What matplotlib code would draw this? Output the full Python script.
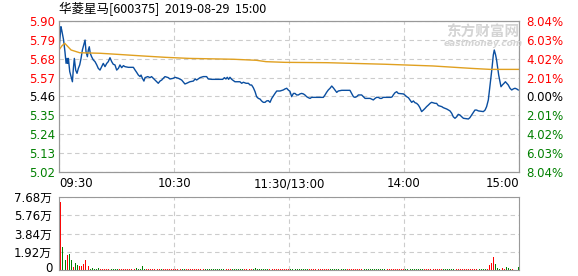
import numpy as np
import matplotlib
matplotlib.use("Agg")
import matplotlib.pyplot as plt

plt.rcParams['font.family'] = ['Noto Sans CJK SC', 'DejaVu Sans']

# 数据
title = "华菱星马[600375]  2019-08-29  15:00"
prev_close = 5.46
price_ticks = [5.90, 5.79, 5.68, 5.57, 5.46, 5.35, 5.24, 5.13, 5.02]
pct_labels = ["8.04%", "6.03%", "4.02%", "2.01%", "0.00%", "2.01%", "4.02%", "6.03%", "8.04%"]
time_ticks = [0, 60, 120, 180, 240]
time_labels = ["09:30", "10:30", "11:30/13:00", "14:00", "15:00"]
vol_ticks = [0, 19200, 38400, 57600, 76800]
vol_labels = ["0", "1.92万", "3.84万", "5.76万", "7.68万"]

price_t = [0, 1, 1.4, 1.9, 2.4, 3.1, 3.7, 4.2, 4.5, 4.9, 5.6, 6.3, 7.0, 7.5, 8.0, 8.7, 9.4,
           10.1, 10.8, 11.5, 12.2, 12.9, 13.6, 14.1, 14.8, 15.3, 15.8, 16.3, 17.0, 17.9,
           18.8, 19.7, 20.5, 21.4, 22.3, 23.1, 24.0, 24.9, 25.7, 26.6, 27.5, 28.3, 29.2,
           30.1, 31.0, 31.8, 32.7, 33.6, 34.4, 36.2, 38.8, 39.7, 40.5, 41.4, 42.3, 42.8,
           43.5, 44.3, 44.9, 46.3, 47.5, 48.3, 49.2, 50.1, 51.0, 51.8, 52.7, 53.6, 54.4,
           55.3, 57.0, 57.9, 59.6, 60.5, 62.3, 64.0, 65.7, 66.6, 68.3, 70.1, 71.0, 71.8,
           73.6, 75.3, 77.0, 77.9, 79.7, 85.4, 86.3, 87.1, 87.8, 88.5, 89.2, 90.1, 91.8,
           94.4, 95.3, 96.2, 97.6, 98.8, 99.7, 100.5, 101.4, 102.3, 103.1, 104.0, 104.9,
           105.7, 106.6, 107.5, 108.3, 109.2, 110.1, 111.0, 111.8, 112.7, 113.6, 115.3,
           117.0, 117.9, 118.8, 119.6, 120.5, 121.4, 122.3, 123.1, 124.0, 124.9, 125.7,
           126.6, 127.5, 128.3, 129.2, 130.1, 131.0, 131.8, 137.9, 138.8, 139.6, 140.5,
           141.4, 142.3, 143.1, 144.0, 144.9, 145.7, 147.5, 151.8, 152.7, 153.6, 154.4,
           155.3, 156.2, 157.9, 158.8, 159.7, 162.3, 163.1, 164.0, 164.9, 165.7, 166.6,
           167.5, 168.3, 169.2, 173.2, 173.9, 174.4, 175.3, 176.2, 177.0, 179.7, 180.5,
           181.4, 182.3, 183.1, 184.0, 184.9, 185.7, 186.6, 187.5, 188.3, 189.2, 190.1,
           191.0, 191.8, 192.7, 193.6, 194.4, 196.2, 197.0, 197.9, 199.7, 200.5, 202.3,
           204.0, 204.9, 205.7, 206.6, 207.5, 208.3, 209.2, 210.1, 211.0, 213.6, 214.4,
           215.3, 216.2, 217.0, 217.9, 218.8, 221.4, 222.3, 223.1, 224.0, 224.5, 225.2,
           225.9, 226.6, 227.1, 227.8, 228.3, 228.9, 229.4, 230.1, 230.6, 231.3, 232.2,
           232.9, 233.6, 234.4, 235.3, 236.2, 237.0, 237.9, 238.8, 239.6]
price = [5.731, 5.867, 5.848, 5.818, 5.789, 5.721, 5.653, 5.682, 5.653, 5.682, 5.605, 5.576,
         5.546, 5.624, 5.682, 5.614, 5.595, 5.624, 5.644, 5.682, 5.731, 5.760, 5.789, 5.721,
         5.692, 5.731, 5.750, 5.712, 5.692, 5.673, 5.663, 5.644, 5.624, 5.614, 5.634, 5.653,
         5.634, 5.653, 5.663, 5.686, 5.663, 5.648, 5.644, 5.614, 5.624, 5.644, 5.628, 5.640,
         5.634, 5.630, 5.630, 5.614, 5.601, 5.585, 5.576, 5.585, 5.566, 5.550, 5.570, 5.576,
         5.570, 5.576, 5.566, 5.556, 5.546, 5.537, 5.550, 5.556, 5.566, 5.576, 5.570, 5.562,
         5.566, 5.572, 5.566, 5.556, 5.533, 5.537, 5.546, 5.550, 5.562, 5.556, 5.570, 5.576,
         5.576, 5.562, 5.560, 5.560, 5.570, 5.562, 5.572, 5.560, 5.572, 5.560, 5.546, 5.546,
         5.537, 5.543, 5.537, 5.537, 5.527, 5.527, 5.511, 5.488, 5.459, 5.449, 5.445, 5.434,
         5.426, 5.426, 5.434, 5.436, 5.426, 5.449, 5.463, 5.478, 5.492, 5.492, 5.498, 5.504,
         5.508, 5.498, 5.490, 5.459, 5.478, 5.478, 5.469, 5.469, 5.475, 5.478, 5.475, 5.469,
         5.459, 5.453, 5.449, 5.455, 5.455, 5.469, 5.484, 5.498, 5.508, 5.521, 5.511, 5.498,
         5.484, 5.492, 5.496, 5.496, 5.478, 5.459, 5.455, 5.459, 5.469, 5.469, 5.459, 5.449,
         5.449, 5.445, 5.440, 5.449, 5.455, 5.455, 5.449, 5.449, 5.455, 5.455, 5.459, 5.469,
         5.482, 5.488, 5.478, 5.475, 5.468, 5.459, 5.453, 5.440, 5.426, 5.434, 5.424, 5.420,
         5.410, 5.395, 5.372, 5.381, 5.391, 5.401, 5.410, 5.420, 5.426, 5.420, 5.420, 5.407,
         5.401, 5.395, 5.387, 5.376, 5.362, 5.342, 5.333, 5.342, 5.356, 5.352, 5.342, 5.333,
         5.329, 5.337, 5.352, 5.368, 5.381, 5.381, 5.376, 5.372, 5.381, 5.401, 5.440, 5.488,
         5.556, 5.624, 5.702, 5.731, 5.702, 5.673, 5.624, 5.585, 5.546, 5.517, 5.527, 5.537,
         5.546, 5.537, 5.527, 5.508, 5.498, 5.504, 5.508, 5.504, 5.498]

avg_t = [0, 1.5, 3, 6.3, 10.8, 21.4, 30, 44, 56, 68, 91, 103, 108, 118, 140, 170, 195, 215, 225, 240]
avg_price = [5.731, 5.755, 5.770, 5.731, 5.715, 5.712, 5.706, 5.696, 5.688, 5.682, 5.677,
             5.671, 5.663, 5.659, 5.657, 5.648, 5.638, 5.624, 5.618, 5.618]

volume = [71200, 24300, 14600, 10400, 15600, 16700, 10400, 3500, 7000, 4900,
          4200, 4200, 6300, 10400, 4200, 4200, 1000, 2000, 1000, 1000,
          2200, 900, 1000, 800, 1000, 900, 1100, 1000, 900, 1000,
          800, 1000, 900, 1000, 1100, 900, 800, 1000, 900, 1000,
          2100, 1000, 900, 4300, 1000, 1100, 900, 1000, 800, 1000,
          1000, 900, 1100, 1000, 900, 1000, 800, 1000, 900, 1000,
          1000, 900, 1100, 1000, 800, 1000, 900, 1000, 1000, 900,
          1100, 1000, 900, 800, 1000, 1000, 900, 1000, 1100, 900,
          1000, 900, 1000, 800, 1000, 1100, 1000, 900, 1000, 1000,
          900, 800, 1000, 1000, 900, 1100, 1000, 900, 1000, 800,
          1000, 1300, 2200, 1000, 900, 1000, 1000, 900, 1100, 1000,
          800, 1000, 900, 1000, 1000, 900, 1100, 1000, 900, 1000,
          1000, 900, 1000, 800, 1000, 1100, 900, 1000, 1000, 900,
          1000, 800, 1000, 1000, 900, 1100, 1000, 900, 1000, 1000,
          900, 1000, 1100, 1000, 800, 1000, 900, 1000, 1000, 900,
          1100, 1000, 900, 1000, 800, 1000, 1000, 900, 1000, 1100,
          1000, 900, 1000, 1000, 800, 1000, 900, 1100, 1000, 900,
          1000, 1000, 800, 1000, 900, 1000, 1100, 1000, 900, 1000,
          1000, 900, 1000, 800, 1000, 1100, 900, 1000, 1000, 900,
          1000, 800, 1000, 1000, 900, 1100, 1000, 900, 1000, 1000,
          900, 1000, 1100, 1000, 800, 1000, 900, 1000, 1000, 900,
          1100, 1000, 900, 1000, 800, 1000, 1000, 900, 1000, 1100,
          1300, 1000, 900, 1200, 4900, 7600, 13900, 6300, 2400, 1100,
          800, 1600, 1000, 3500, 2400, 1100, 1000, 300, 300, 3500]
# r = 上涨, g = 下跌
vol_dir = ("rgggrggrggrrrrrrgggg" "grrrrrrggggrrrrrrrrr" "gggggrrrrrrrrgrrrrrr"
           "rrrrggrrrrrrrrrrgggg" "ggggggrrrrggggggrrrr" "rggggggggrrrrrrrrrrr"
           "ggggggggggrrrrrrrrrr" "rgggggggggrrrrrrrrrg" "ggggggggggrrrrrrrrrr"
           "ggggggggggrrrrrrrrrr" "ggggggrrrrrrrrrrrrrg" "gggrrrrggggrrgggrggg")

W, H = 578, 276
fig = plt.figure(figsize=(W / 100, H / 100), dpi=100)

RED, GREEN, GRID, SPINE = "#ff0000", "#008000", "#cccccc", "#999999"
NUM_FONT = ["DejaVu Sans", "Noto Sans CJK SC"]

def px(x0, y0, x1, y1):
    return [x0 / W, 1 - y1 / H, (x1 - x0) / W, (y1 - y0) / H]

def level_color(v):
    if v > prev_close + 1e-9:
        return RED
    if v < prev_close - 1e-9:
        return GREEN
    return "black"

# 分时图
ax = fig.add_axes(px(59, 21, 519, 172))
ax.plot(price_t, price, color="#0a4ea0", lw=1.0)
ax.plot(avg_t, avg_price, color="#e0a020", lw=1.0)
ax.set_xlim(0, 240)
ax.set_ylim(prev_close * (1 - 0.0804), prev_close * (1 + 0.0804))
ax.set_yticks(price_ticks)
ax.set_yticklabels(["%.2f" % v for v in price_ticks], fontsize=8.5, family=NUM_FONT)
ax.set_xticks(time_ticks)
ax.set_xticklabels([])
for v, lab in zip(price_ticks, ax.get_yticklabels()):
    lab.set_color(level_color(v))
ax.tick_params(length=0, pad=3)
ax.grid(True, color=GRID, ls=(0, (4, 3)), lw=0.8)
for s in ax.spines.values():
    s.set_color(SPINE)

ax2 = ax.twinx()
ax2.set_ylim(ax.get_ylim())
ax2.set_yticks(price_ticks)
ax2.set_yticklabels(pct_labels, fontsize=8.5, family=NUM_FONT)
for v, lab in zip(price_ticks, ax2.get_yticklabels()):
    lab.set_color(level_color(v))
ax2.tick_params(length=0, pad=5)
for s in ax2.spines.values():
    s.set_color(SPINE)

# 时间标签
for t, lab in zip(time_ticks, time_labels):
    ha = "left" if t == 0 else ("right" if t == 240 else "center")
    ax.text(t, -0.035, lab, transform=ax.get_xaxis_transform(), ha=ha, va="top",
            fontsize=8.5, family=NUM_FONT)

# 水印
fig.text(483 / W, 1 - 32 / H, "东方财富网", color="#d4d4d4", fontsize=10.5,
         fontweight="bold", ha="center", va="center")
fig.text(483 / W, 1 - 43 / H, "eastmoney.com", color="#d4d4d4", fontsize=6.5,
         fontweight="bold", style="italic", ha="center", va="center", family="DejaVu Sans")

fig.text(59 / W, 1 - 9 / H, title, fontsize=9, ha="left", va="center")

# 成交量
axv = fig.add_axes(px(59, 197, 519, 270))
x = np.arange(len(volume)) + 0.6
colors = [RED if d == "r" else GREEN for d in vol_dir]
axv.bar(x, volume, width=0.5, color=colors, linewidth=0)
axv.set_xlim(0, 240)
axv.set_ylim(0, 76800)
axv.set_yticks(vol_ticks)
axv.set_yticklabels([""] + vol_labels[1:], fontsize=8.5, family=NUM_FONT)
# 底部的 "0" 单独放置，避免被图边裁掉
axv.text(-6 / 460, -5 / 73, vol_labels[0], transform=axv.transAxes, ha="right",
         va="bottom", fontsize=8.5, family=NUM_FONT)
axv.set_xticks(time_ticks)
axv.set_xticklabels([])
axv.tick_params(length=0, pad=5)
axv.grid(True, color=GRID, ls=(0, (4, 3)), lw=0.8)
axv.set_axisbelow(True)
for s in axv.spines.values():
    s.set_color(SPINE)

fig.savefig("out.png", dpi=100)
